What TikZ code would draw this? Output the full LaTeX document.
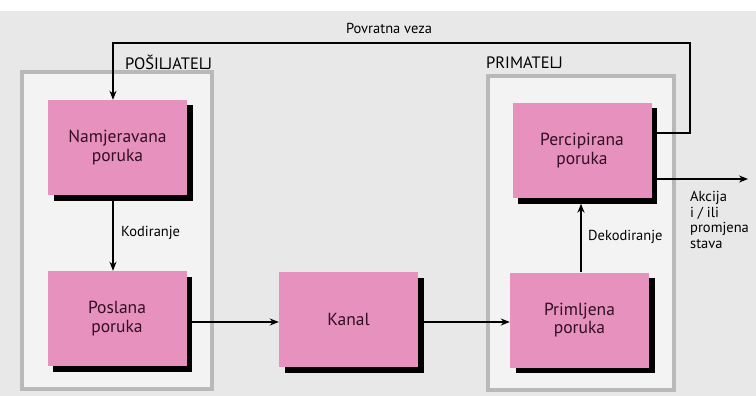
\documentclass[tikz,border=0pt]{standalone}
\usepackage{fontspec}
\setmainfont{PT Sans}
\usetikzlibrary{arrows.meta}
\definecolor{boxpink}{RGB}{230,145,190}
\definecolor{boxtext}{RGB}{50,15,35}
\definecolor{pagebg}{RGB}{232,232,232}
\definecolor{framefill}{RGB}{243,243,243}
\definecolor{framegray}{RGB}{185,185,185}
\tikzset{
  msgbox/.style={fill=boxpink, minimum width=139pt, minimum height=95pt, inner sep=0pt,
    align=center, text=boxtext, font=\fontsize{17.5}{18.5}\selectfont},
  shadebox/.style={fill=black, minimum width=139pt, minimum height=95pt, inner sep=0pt},
  grayframe/.style={draw=framegray, line width=4pt, fill=framefill},
  conn/.style={line width=1.5pt, -{Stealth[length=9pt,width=7pt]}},
  lbl/.style={font=\fontsize{14.5}{15.5}\selectfont, inner sep=0pt, text=black},
  hdr/.style={font=\fontsize{16.5}{18}\selectfont, inner sep=0pt, text=black}
}
\begin{document}
\begin{tikzpicture}[x=1pt,y=-1pt]
\useasboundingbox (0,0) rectangle (756,396);
\fill[pagebg] (0,0) rectangle (756,396);
\fill[white] (0,0) rectangle (756,11);
\draw[grayframe] (22,72) rectangle (212,389);
\draw[grayframe] (488,76) rectangle (674,390);
% shadows
\node[shadebox] (nams) at (123,153) {};
\node[shadebox] (poss) at (122.5,324) {};
\node[shadebox] (kans) at (354,325) {};
\node[shadebox] (pris) at (585,325.5) {};
\node[shadebox] (pers) at (587.5,156) {};
% boxes
\node[msgbox] (nam) at (117.5,147.5) {Namjeravana\\poruka};
\node[msgbox] (pos) at (117,318.5) {Poslana\\poruka};
\node[msgbox] (kan) at (348.5,319.5) {Kanal};
\node[msgbox] (pri) at (579.5,320) {Primljena\\poruka};
\node[msgbox] (per) at (582,150.5) {Percipirana\\poruka};
% headers and labels
\node[hdr, anchor=west] (hs) at (125,62) {POŠILJATELJ};
\node[hdr, anchor=west] (hp) at (486,63) {PRIMATELJ};
\node[lbl] (fb) at (389,28) {Povratna veza};
\node[lbl, anchor=west] (kod) at (121,233) {Kodiranje};
\node[lbl, anchor=west] (dek) at (588,237) {Dekodiranje};
\node[lbl, anchor=north west, align=left] (akc) at (690,191) {Akcija\\i / ili\\promjena\\stava};
% helper coordinates
\coordinate (kx) at (113,0);
\coordinate (dx) at (581,0);
\coordinate (ay) at (0,322);
\coordinate (fy) at (0,133);
\coordinate (fr) at (690,133);
\coordinate (ft) at (690,43);
\coordinate (fl) at (113,43);
\coordinate (oy) at (0,179);
\coordinate (out) at (748,179);
% connectors
\draw[conn] (nams.south -| kx) -- (pos.north -| kx);
\draw[conn] (poss.east |- ay) -- (kan.west |- ay);
\draw[conn] (kans.east |- ay) -- (pri.west |- ay);
\draw[conn] (pri.north -| dx) -- (pers.south -| dx);
\draw[conn] (pers.east |- fy) -- (fr) -- (ft) -- (fl) -- (nam.north -| kx);
\draw[conn] (pers.east |- oy) -- (out);
\end{tikzpicture}
\end{document}
